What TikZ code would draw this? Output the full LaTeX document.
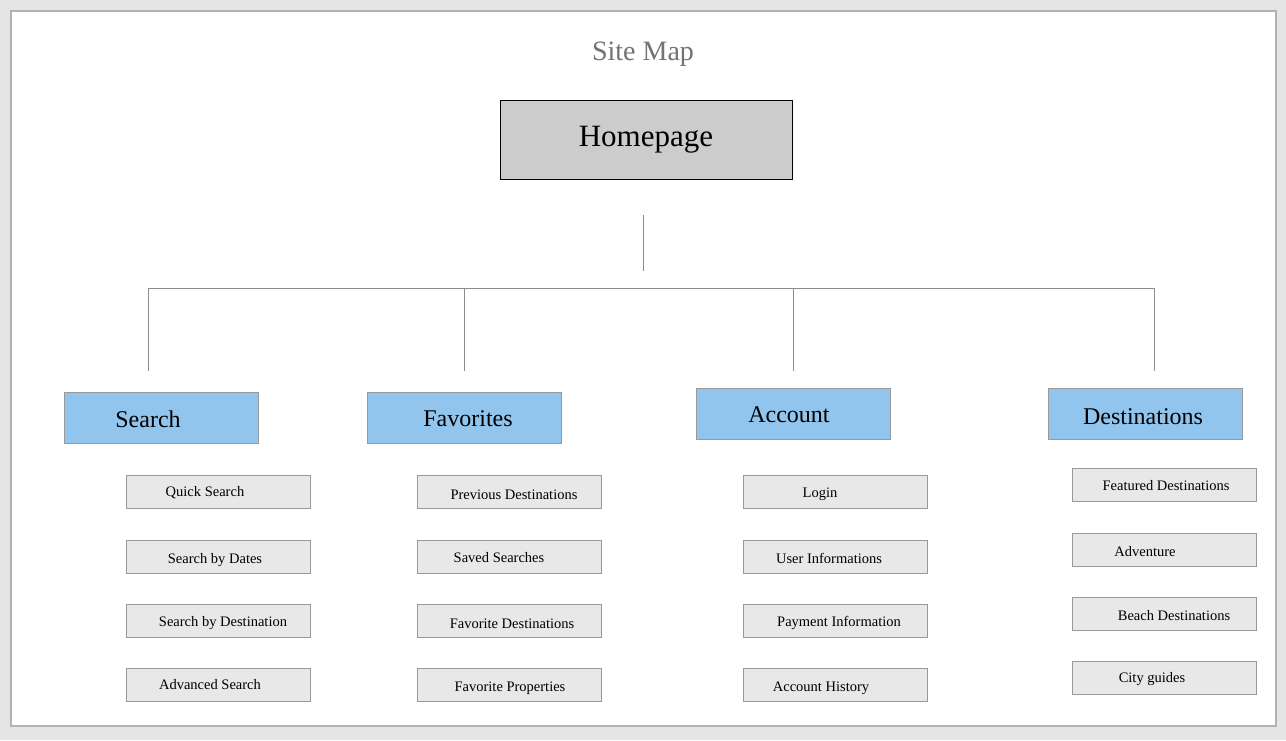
\documentclass[tikz,border=0pt]{standalone}
\usepackage{fontspec}
\setmainfont{Liberation Serif}
\begin{document}
\begin{tikzpicture}[x=1pt,y=-1pt,
  cat/.style={draw=gray!80,fill={rgb,255:red,145;green,197;blue,238},minimum width=194pt,minimum height=51pt,font=\fontsize{24}{28}\selectfont,text=black},
  sub/.style={draw=gray!80,fill={rgb,255:red,232;green,232;blue,232},minimum width=184pt,minimum height=33pt},
  lbl/.style={font=\fontsize{14.5}{17}\selectfont},
  ln/.style={draw=gray!90,line width=0.8pt}]
\fill[gray!20] (0,0) rectangle (1286,740);
\filldraw[fill=white,draw=gray!60,line width=1.2pt] (11,11) rectangle (1276,726);
\node[text=gray!110,font=\fontsize{28}{32}\selectfont] (title) at (643,54) {Site Map};
\node[draw=black,fill={rgb,255:red,204;green,204;blue,204},minimum width=292pt,minimum height=79pt,font=\fontsize{31}{36}\selectfont] (home) at (646,139.5) {Homepage};
\coordinate (t1) at (643,215); \coordinate (t2) at (643,271);
\draw[ln] (t1) -- (t2);
\coordinate (hl) at (148,288); \coordinate (hr) at (1154,288);
\draw[ln] (hl) -- (hr);
\foreach \x/\n in {148/a,464/b,793/c,1154/d}{
  \coordinate (u\n) at (\x,288); \coordinate (v\n) at (\x,371);
  \draw[ln] (u\n) -- (v\n);}
\node[cat] (search) at (161,417.5) {};
\node at (148,419) {\fontsize{24}{28}\selectfont Search};
\node[cat] (fav) at (464.5,417.5) {};
\node at (468,419) {\fontsize{24}{28}\selectfont Favorites};
\node[cat] (acc) at (793,413.5) {};
\node at (789,415) {\fontsize{24}{28}\selectfont Account};
\node[cat] (dest) at (1145,413.5) {};
\node at (1143,417) {\fontsize{24}{28}\selectfont Destinations};
% sub boxes
\foreach \n/\cx/\tx/\ty/\t/\cy in {
 s1/218/205/493/Quick Search/491.5, s2/218/215/560/Search by Dates/556.5,
 s3/218/223/623/Search by Destination/620.5, s4/218/210/685/Advanced Search/684.5,
 f1/509/514/495/Previous Destinations/491.5, f2/509/499/558/Saved Searches/556.5,
 f3/509/512/624/Favorite Destinations/620.5, f4/509/510/688/Favorite Properties/684.5,
 a1/835/820/494/Login/491.5, a2/835/829/558/User Informations/556.5,
 a3/835/839/623/Payment Information/620.5, a4/835/821/688/Account History/684.5,
 d1/1164/1166/486/Featured Destinations/484.5, d2/1164/1145/552/Adventure/549.5,
 d3/1164/1174/616/Beach Destinations/613.5, d4/1164/1152/679/City guides/677.5}{
 \node[sub] (\n) at (\cx,\cy) {};
 \node[lbl] (\n t) at (\tx,\ty) {\t};}
\end{tikzpicture}
\end{document}
